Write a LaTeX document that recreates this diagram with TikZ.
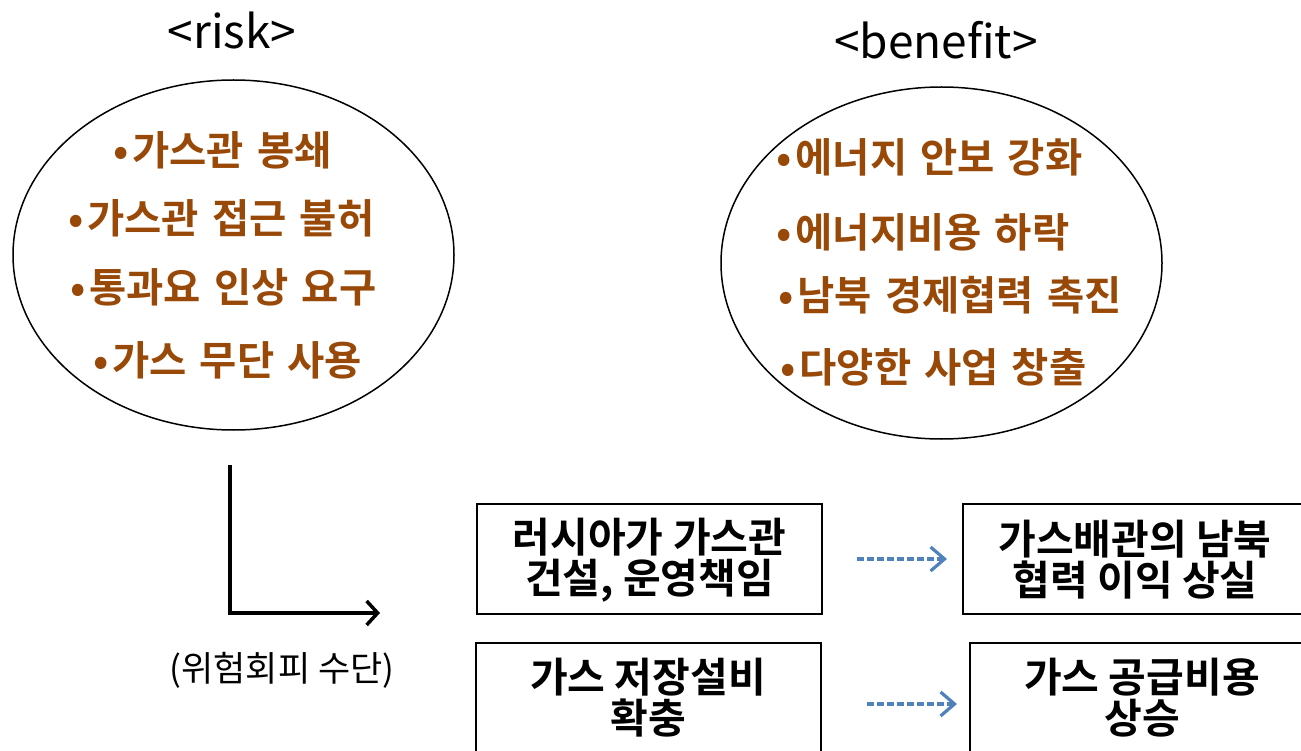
\documentclass[tikz,border=0pt]{standalone}
\usepackage{fontspec}
\setmainfont{Noto Sans CJK KR}
\newfontfamily\krb{Noto Sans CJK KR Bold}
\usetikzlibrary{arrows.meta}
\definecolor{brn}{HTML}{984807}
\definecolor{dblue}{HTML}{4F81BD}
\newcommand{\itemfont}{\krb\fontsize{40.5}{44}\selectfont\spaceskip 13pt\relax}
\tikzset{
  title/.style={inner sep=0pt, font=\fontsize{46}{50}\selectfont},
  item/.style={inner sep=0pt, anchor=west, text=brn, font=\itemfont},
  box/.style={draw, line width=1.5pt, inner sep=0pt},
  boxtext/.style={inner sep=0pt, align=center, font=\krb\fontsize{41}{41}\selectfont},
  dasharrow/.style={draw=dblue, line width=3.2pt, dash pattern=on 7pt off 3pt, -{Straight Barb[length=14pt,width=24pt,line width=3.2pt]}},
  mainarrow/.style={line width=3.5pt, -{Straight Barb[length=11pt,width=24pt,line width=3.5pt]}}
}
\newcommand{\bul}{•\hspace{4pt}}
\begin{document}
\begin{tikzpicture}[x=1pt,y=-1pt]
\useasboundingbox (0,0) rectangle (1301,751);
% titles
\node[title] (trisk) at (232,30) {<risk>};
\node[title] (tben) at (936,40) {<benefit>};
% ellipses
\draw[line width=1.5pt] (233.5,255) ellipse [x radius=220.5, y radius=175];
\draw[line width=1.5pt] (941.5,263) ellipse [x radius=220.5, y radius=176];
\node[item] (r1) at (113,150) {\bul 가스관 봉쇄};
\node[item] (r2) at (68,218) {\bul 가스관 접근 불허};
\node[item] (r3) at (70,287) {\bul 통과요 인상 요구};
\node[item] (r4) at (93,360) {\bul 가스 무단 사용};
\node[item] (b1) at (776,157) {\bul 에너지 안보 강화};
\node[item] (b2) at (776,232) {\bul 에너지비용 하락};
\node[item] (b3) at (778,295) {\bul 남북 경제협력 촉진};
\node[item] (b4) at (780,367) {\bul 다양한 사업 창출};
% L arrow
\coordinate (ltop) at (230,465);
\coordinate (lcorner) at (230,613);
\coordinate (lend) at (380,613);
\draw[mainarrow] (ltop) -- (lcorner) -- (lend);
\node[inner sep=0pt, font=\fontsize{35}{38}\selectfont] (means) at (282,670) {(위험회피 수단)};
% boxes
\draw[box] (477,504) rectangle (822,614);
\draw[box] (963,504) rectangle (1312,614);
\draw[box] (476,643) rectangle (821,760);
\draw[box] (970,643) rectangle (1312,760);
\node[boxtext] (bx1) at (649.5,560) {러시아가 가스관\\건설, 운영책임};
\node[boxtext] (bx2) at (1135,560) {가스배관의 남북\\협력 이익 상실};
\node[boxtext] (bx3) at (648,698) {가스 저장설비\\확충};
\node[boxtext] (bx4) at (1142,698) {가스 공급비용\\상승};
% dashed arrows
\coordinate (a1s) at (857,559);
\coordinate (a1e) at (947,559);
\coordinate (a2s) at (867,704);
\coordinate (a2e) at (957,704);
\draw[dasharrow] (a1s) -- (a1e);
\draw[dasharrow] (a2s) -- (a2e);
\end{tikzpicture}
\end{document}
